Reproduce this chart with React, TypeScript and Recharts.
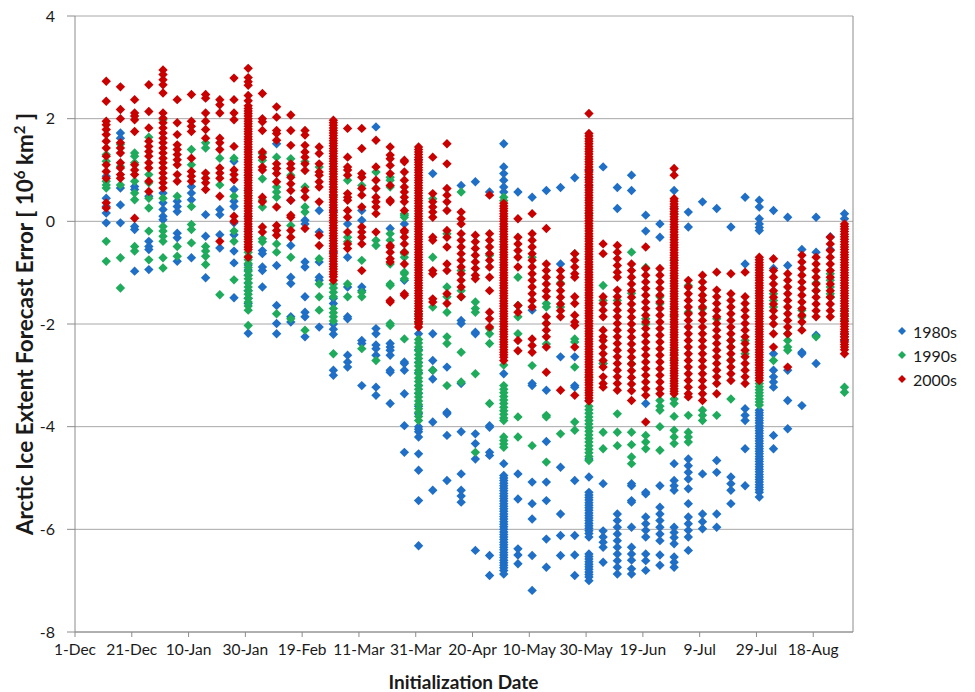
import React from 'react';
import { ScatterChart, Scatter, XAxis, YAxis, CartesianGrid, ReferenceLine, Legend } from 'recharts';

// Tick positions are days since 1 December
const xTickDays = [0, 20, 40, 60, 80, 100, 120, 140, 160, 180, 200, 220, 240, 260];
const xTickLabels = ['1-Dec', '21-Dec', '10-Jan', '30-Jan', '19-Feb', '11-Mar', '31-Mar', '20-Apr', '10-May', '30-May', '19-Jun', '9-Jul', '29-Jul', '18-Aug'];
const yTicks = [-8, -6, -4, -2, 0, 2, 4];
const yMinorTicks = [-7.6, -7.2, -6.8, -6.4, -5.6, -5.2, -4.8, -4.4, -3.6, -3.2, -2.8, -2.4, -1.6, -1.2, -0.8, -0.4, 0.4, 0.8, 1.2, 1.6, 2.4, 2.8, 3.2, 3.6];

const seriesNames = ['1980s', '1990s', '2000s'];
const seriesColors = ['#1f6fc6', '#1eab5c', '#c80000'];

// [initialization day since 1-Dec, forecast errors (10^6 km^2)]
const errors1980s: [number, number[]][] = [
  [11, [0.88, 0.45, 0.29, 0.16, -0.03]],
  [16, [1.72, 1.62, 0.65, 0.32, -0.03]],
  [21, [0.68, 0.62, -0.1, -0.16, -0.97]],
  [26, [0.49, -0.39, -0.49, -0.55, -0.94]],
  [31, [0.55, 0.36, 0.23, 0.1, 0.03]],
  [36, [0.39, 0.29, 0.19, -0.23, -0.32, -0.78]],
  [41, [0.68, 0.55, 0.42, -0.71]],
  [46, [0.13, -0.29, -1.1]],
  [51, [0.23, 0.13, -0.26, -0.52]],
  [56, [1.17, 0.62, 0.39, 0.29, -0.03, -0.26, -0.58, -0.81, -1.49]],
  [61, [0.6, 0.3, 0.1, -0.2, -0.85, -0.95, -1.05, -1.2, -1.35, -1.5, -1.6, -2.18]],
  [66, [1.25, -0.57, -0.63, -0.89, -0.96, -1.28]],
  [71, [1.51, -0.86, -1.64, -1.99, -2.19]],
  [76, [0.41, -0.47, -1.09, -1.21, -1.86, -1.96]],
  [81, [0.02, -0.05, -0.79, -0.89, -1.47, -1.77, -1.86, -2.25]],
  [86, [0.21, -0.21, -0.79, -1.09, -1.15, -2.06]],
  [91, [0.2, -0.6, -1.5, -1.6, -2.0, -2.1, -2.2, -2.9, -3.0]],
  [96, [-0.05, -0.7, -1.28, -1.86, -1.9, -2.61, -2.74, -2.84]],
  [101, [0.21, 0.02, -1.28, -1.35, -2.32, -2.38, -3.2]],
  [106, [1.84, -2.09, -2.19, -2.41, -2.48, -2.61, -3.23, -3.39]],
  [111, [-0.14, -2.38, -2.45, -2.51, -2.61, -2.9, -2.94, -3.55]],
  [116, [-0.05, -1.15, -2.74, -2.77, -2.9, -3.36, -3.98, -4.5]],
  [121, [1.2, -2.19, -2.5, -2.75, -2.95, -3.2, -3.35, -3.6, -3.75, -4.0, -4.05, -4.1, -4.2, -4.53, -4.85, -5.44, -6.32]],
  [126, [0.93, -2.19, -2.71, -2.9, -3.07, -3.91, -5.24]],
  [131, [-2.84, -3.72, -3.75, -4.17, -5.05]],
  [136, [0.7, -1.93, -1.99, -3.16, -4.1, -4.92, -5.24, -5.35, -5.47]],
  [141, [0.77, -2.16, -2.19, -4.14, -4.33, -4.63, -6.41]],
  [146, [0.57, -3.98, -4.01, -4.5, -4.56, -6.51, -6.9]],
  [151, [1.51, 1.06, 0.93, 0.8, 0.67, 0.57, -2.97, -4.72, -4.95, -5.0, -5.05, -5.1, -5.15, -5.2, -5.25, -5.3, -5.35, -5.4, -5.45, -5.5, -5.55, -5.6, -5.65, -5.7, -5.75, -5.8, -5.85, -5.9, -5.95, -6.0, -6.05, -6.1, -6.15, -6.2, -6.25, -6.3, -6.35, -6.4, -6.45, -6.5, -6.55, -6.6, -6.65, -6.7, -6.75, -6.8, -6.87]],
  [156, [0.57, -4.92, -5.41, -6.38, -6.5, -6.67]],
  [161, [0.47, -1.73, -3.16, -3.2, -5.08, -5.5, -5.8, -6.51, -7.19]],
  [166, [0.6, -3.29, -4.29, -5.08, -5.44, -6.19, -6.74]],
  [171, [0.66, -0.83, -2.64, -4.79, -5.7, -6.12, -6.51]],
  [176, [0.85, -2.64, -3.2, -3.23, -5.05, -6.12, -6.5, -6.9]],
  [181, [0.99, 0.86, 0.7, -3.49, -4.63, -4.98, -5.28, -5.33, -5.38, -5.43, -5.48, -5.53, -5.58, -5.63, -5.68, -5.73, -5.78, -5.83, -5.88, -5.93, -5.98, -6.03, -6.08, -6.15, -6.48, -6.53, -6.58, -6.63, -6.68, -6.73, -6.78, -6.83, -6.88, -6.93, -7.0]],
  [186, [1.06, -2.77, -5.11, -6.03, -6.15, -6.25, -6.35, -6.64]],
  [191, [0.66, 0.25, -5.7, -5.83, -5.96, -6.09, -6.22, -6.35, -6.48, -6.61, -6.74, -6.87]],
  [196, [0.9, 0.6, -5.11, -5.15, -5.44, -5.47, -5.96, -6.35, -6.48, -6.6, -6.77, -6.87]],
  [201, [0.12, -0.19, -3.55, -5.28, -5.31, -5.76, -5.89, -6.02, -6.15, -6.48, -6.61, -6.8]],
  [206, [-0.05, -0.31, -5.15, -5.57, -5.7, -5.83, -5.96, -6.09, -6.22, -6.5, -6.7]],
  [211, [0.6, 0.25, -4.72, -5.05, -5.15, -5.24, -5.96, -6.06, -6.16, -6.28, -6.54, -6.64, -6.74]],
  [216, [0.18, -0.11, -4.63, -4.76, -4.89, -5.02, -5.21, -5.5, -5.76, -5.89, -6.02, -6.15, -6.41]],
  [221, [0.38, -4.92, -5.7, -5.85, -5.99]],
  [226, [0.25, -4.66, -4.89, -5.7, -5.96]],
  [231, [-0.11, -4.98, -5.11, -5.24, -5.5]],
  [236, [0.47, -0.83, -3.65, -3.78, -3.88, -4.43, -5.15]],
  [241, [0.41, 0.28, 0.05, -0.05, -0.12, -0.18, -3.68, -3.73, -3.78, -3.83, -3.88, -3.93, -3.98, -4.03, -4.08, -4.13, -4.18, -4.23, -4.28, -4.33, -4.38, -4.43, -4.48, -4.53, -4.58, -4.63, -4.68, -4.73, -4.78, -4.83, -4.88, -4.93, -4.98, -5.03, -5.08, -5.13, -5.18, -5.23, -5.28, -5.37]],
  [246, [0.21, -0.92, -2.58, -2.9, -3.03, -3.13, -3.23, -4.17, -4.43]],
  [251, [0.08, -0.86, -2.9, -3.49, -4.04]],
  [256, [-0.55, -2.55, -2.58, -3.59]],
  [261, [0.08, -0.6, -2.22, -2.77]],
  [266, [-0.3, -0.55]],
  [271, [0.15, 0.05, -2.19, -2.25, -2.32]],
];

const errors1990s: [number, number[]][] = [
  [11, [1.3, 1.17, 0.78, 0.71, 0.65, -0.39, -0.78]],
  [16, [1.5, 1.07, 0.71, -0.71, -1.3]],
  [21, [1.33, 1.27, 1.14, 0.78, 0.55, 0.42, -0.49, -0.58]],
  [26, [1.64, 0.91, 0.75, 0.45, 0.26, -0.19, -0.75]],
  [31, [1.98, 0.45, -0.1, -0.19, -0.29, -0.39, -0.71, -0.91]],
  [36, [0.49, -0.49, -0.68]],
  [41, [1.4, 1.1, 0.29, -0.06, -0.16, -0.42]],
  [46, [1.53, 1.43, -0.49, -0.58, -0.68, -0.84]],
  [51, [1.23, 0.71, -1.43]],
  [56, [1.23, 0.49, -0.19, -0.39, -1.14]],
  [61, [0.9, 0.5, -0.3, -0.4, -0.5, -0.6, -0.68, -0.75, -0.82, -0.9, -0.97, -1.05, -1.12, -1.2, -1.28, -1.35, -1.42, -1.5, -1.57, -1.65, -1.73, -2.03]],
  [66, [1.32, 1.19, 0.83, 0.41, 0.28, -0.34, -0.4]],
  [71, [1.25, 0.67, 0.57, 0.47, -0.44, -0.6, -1.8]],
  [76, [1.22, 0.9, -0.08, -0.7, -1.9]],
  [81, [1.16, 0.67, 0.28, 0.18, -2.12]],
  [86, [1.06, -0.73, -1.22, -1.47, -1.73]],
  [91, [0.5, -1.22, -1.3, -1.38, -1.47, -1.7, -1.78, -1.86, -1.94, -2.58]],
  [96, [0.8, -0.31, -0.4, -1.22, -1.47]],
  [101, [0.7, -0.76, -1.38, -1.47, -2.48]],
  [106, [0.96, -0.37, -0.47, -2.71]],
  [111, [0.86, 0.8, 0.67, -0.24, -0.37, -0.83, -1.22, -1.25, -1.99, -2.03]],
  [116, [0.15, 0.12, 0.08, -0.6, -0.63, -0.7, -0.99, -1.02, -1.12, -2.29]],
  [121, [-1.75, -1.82, -1.9, -1.97, -2.3, -2.37, -2.45, -2.52, -2.6, -2.67, -2.75, -2.82, -2.9, -2.97, -3.05, -3.12, -3.2, -3.27, -3.35, -3.42, -3.5, -3.57, -3.65, -3.72, -3.8, -3.88]],
  [126, [0.44, -0.7, -1.67, -2.9]],
  [131, [-0.24, -1.28, -1.47, -1.77, -2.25, -2.38, -3.2]],
  [136, [0.57, -0.96, -1.35, -1.47, -2.55, -3.13]],
  [141, [-1.57, -1.7, -1.77, -2.97, -4.5]],
  [146, [-0.66, -2.09, -2.19, -2.38, -3.55]],
  [151, [0.47, 0.4, -2.8, -3.2, -3.27, -3.34, -3.41, -3.48, -3.55, -3.62, -3.69, -3.76, -3.83, -3.88, -4.2, -4.27, -4.34, -4.4]],
  [156, [-1.09, -1.64, -1.86, -2.19, -3.81, -4.2]],
  [161, [-0.7, -2.81, -4.37]],
  [166, [-1.6, -1.67, -1.99, -2.39, -3.78, -3.81, -4.69]],
  [171, [-1.2, -1.67, -4.14]],
  [176, [-0.63, -2.29, -2.35, -2.84, -3.91, -4.07]],
  [181, [0.15, -3.03, -3.6, -3.67, -3.74, -3.81, -3.88, -3.95, -4.02, -4.09, -4.16, -4.23, -4.3, -4.37, -4.44, -4.51, -4.58, -4.66]],
  [186, [-1.25, -1.54, -2.77, -4.11, -4.43]],
  [191, [-1.54, -3.75, -4.11, -4.37]],
  [196, [-0.6, -1.4, -2.77, -4.11, -4.35, -4.59, -4.72]],
  [201, [-0.9, -1.9, -2.0, -4.17, -4.3, -4.43]],
  [206, [-1.47, -1.6, -3.49, -3.6, -3.68, -4.0, -4.46]],
  [211, [0.15, -0.76, -1.7, -1.83, -2.5, -2.6, -2.7, -3.46, -3.55, -3.8, -4.07, -4.2, -4.33]],
  [216, [-1.25, -1.77, -3.78, -4.11, -4.2, -4.3]],
  [221, [-1.7, -3.68, -3.78, -3.88]],
  [226, [-1.9, -3.78]],
  [231, [-2.32, -2.45, -2.7, -3.46]],
  [236, [-2.32, -2.58]],
  [241, [-3.16, -3.22, -3.28, -3.34, -3.4, -3.46, -3.52, -3.58]],
  [246, [-1.41, -1.54, -1.67, -2.71]],
  [251, [-2.19, -2.32, -2.45, -2.51]],
  [256, [-1.73, -1.86]],
  [261, [-1.2, -1.35, -2.25]],
  [266, [-1.02, -1.15, -1.28, -1.41, -1.47]],
  [271, [-1.73, -1.83, -1.93, -3.23, -3.33]],
];

const errors2000s: [number, number[]][] = [
  [11, [2.73, 2.34, 1.95, 1.88, 1.79, 1.69, 1.56, 1.43, 1.27, 1.1, 0.97, 0.84, 0.36, 0.26]],
  [16, [2.62, 2.18, 2.0, 1.53, 1.43, 1.33, 1.14, 1.04, 0.91, 0.84]],
  [21, [2.37, 2.11, 2.05, 1.98, 1.75, 1.1, 1.0, 0.91, 0.06]],
  [26, [2.66, 2.14, 1.82, 1.56, 1.46, 1.36, 1.27, 1.14, 1.04, 0.78, 0.58]],
  [31, [2.95, 2.86, 2.76, 2.66, 2.5, 2.11, 2.01, 1.92, 1.82, 1.72, 1.62, 1.53, 1.43, 1.33, 1.23, 1.14, 1.04, 0.94, 0.84, 0.75, 0.65]],
  [36, [2.37, 1.92, 1.69, 1.49, 1.4, 1.3, 1.2, 1.1, 0.91, 0.78]],
  [41, [2.47, 1.95, 1.85, 1.75, 1.23, 0.97, 0.88, 0.78]],
  [46, [2.47, 2.4, 2.11, 1.95, 1.79, 1.62, 0.94, 0.84, 0.75, 0.62]],
  [51, [2.37, 2.27, 2.11, 1.62, 1.53, 1.4, 1.04, 0.94, 0.84, 0.49, -0.39]],
  [56, [2.79, 2.37, 2.11, 1.98, 1.46, 1.0, 0.91, 0.81, 0.1, 0.0]],
  [61, [2.98, 2.8, 2.72, 2.65, 2.45, 2.35, 2.25, 2.2, 2.15, 2.1, 2.05, 2.0, 1.95, 1.9, 1.85, 1.8, 1.75, 1.7, 1.65, 1.6, 1.55, 1.5, 1.45, 1.4, 1.35, 1.3, 1.25, 1.2, 1.15, 1.1, 1.05, 1.0, 0.95, 0.9, 0.85, 0.8, 0.75, 0.7, 0.65, 0.6, 0.55, 0.5, 0.45, 0.4, 0.35, 0.3, 0.25, 0.2, 0.15, 0.1, 0.05, 0.0, -0.05, -0.1, -0.15, -0.2, -0.25, -0.3, -0.35, -0.4, -0.45, -0.5, -0.55, -0.7]],
  [66, [2.49, 2.0, 1.94, 1.77, 1.35, 1.25, 1.06, 1.0, 0.47, 0.38, -0.11, -0.21]],
  [71, [2.23, 2.03, 1.77, 1.71, 1.58, 1.12, 1.03, 0.93, 0.77, 0.28, -0.08, -0.18, -0.27]],
  [76, [2.07, 1.77, 1.48, 1.12, 1.03, 0.86, 0.73, 0.6, 0.41, 0.12, 0.08, -0.18, -0.31]],
  [81, [1.77, 1.68, 1.48, 1.35, 1.25, 1.12, 0.99, 0.6, 0.47, -0.14]],
  [86, [1.45, 1.32, 1.12, 0.96, 0.9, 0.77, 0.67, 0.38, -0.27, -0.47]],
  [91, [1.97, 1.92, 1.87, 1.82, 1.77, 1.72, 1.67, 1.62, 1.57, 1.52, 1.47, 1.42, 1.37, 1.32, 1.27, 1.22, 1.17, 1.12, 1.07, 1.02, 0.97, 0.92, 0.87, 0.82, 0.77, 0.72, 0.67, 0.62, 0.57, 0.52, 0.47, 0.42, 0.37, 0.32, 0.27, 0.22, 0.17, 0.12, 0.07, 0.02, -0.03, -0.08, -0.13, -0.18, -0.23, -0.28, -0.33, -0.38, -0.43, -0.48, -0.53, -0.58, -0.63, -0.68, -0.73, -0.78, -0.83, -0.88, -0.93, -0.98, -1.03, -1.08, -1.15]],
  [96, [1.81, 1.25, 1.06, 1.0, 0.9, 0.54, 0.47, 0.41, 0.21, 0.08, -0.21, -0.44, -0.53]],
  [101, [1.81, 1.42, 0.93, 0.86, 0.64, 0.51, 0.28, -0.11, -0.21, -0.31, -0.44, -0.96]],
  [106, [1.58, 1.06, 0.8, 0.64, 0.47, 0.38, 0.28, 0.15, -0.21]],
  [111, [1.45, 1.29, 1.22, 1.09, 0.93, 0.7, 0.41, 0.38, -0.47, -0.5, -0.6, -0.73, -0.79, -1.54, -1.57]],
  [116, [1.19, 1.16, 0.96, 0.8, 0.67, 0.57, 0.47, 0.38, 0.21, -0.18, -0.21, -0.31, -0.44, -0.6, -0.83, -1.41, -1.44]],
  [121, [1.45, 1.4, 1.35, 1.3, 1.25, 1.2, 1.15, 1.1, 1.05, 1.0, 0.95, 0.9, 0.85, 0.8, 0.75, 0.7, 0.65, 0.6, 0.55, 0.5, 0.45, 0.4, 0.35, 0.3, 0.25, 0.2, 0.15, 0.1, 0.05, 0.0, -0.05, -0.1, -0.15, -0.2, -0.25, -0.3, -0.35, -0.4, -0.45, -0.5, -0.55, -0.6, -0.65, -0.7, -0.75, -0.8, -0.85, -0.9, -0.95, -1.0, -1.05, -1.1, -1.15, -1.2, -1.25, -1.3, -1.35, -1.4, -1.45, -1.5, -1.55, -1.6, -1.65, -1.7, -1.75, -1.8, -1.85, -1.9, -1.95, -2.0, -2.06]],
  [126, [1.25, 0.54, 0.38, 0.28, 0.18, 0.08, -0.31, -0.37, -0.96, -1.02, -1.51, -1.57]],
  [131, [1.51, 1.12, 0.64, 0.51, 0.38, 0.21, -0.18, -0.31, -0.5, -0.83, -0.96, -1.41, -1.6]],
  [136, [0.18, 0.05, -0.05, -0.24, -0.37, -0.5, -0.63, -0.76, -0.89, -1.02, -1.15, -1.28, -1.47]],
  [141, [-0.27, -0.4, -0.53, -0.66, -0.79, -0.92, -1.05, -1.12]],
  [146, [0.51, -0.24, -0.37, -0.5, -0.63, -0.76, -0.89, -1.09, -1.35, -1.77, -1.9, -2.06]],
  [151, [0.35, 0.3, 0.25, 0.2, 0.15, 0.1, 0.05, 0.0, -0.05, -0.1, -0.15, -0.2, -0.25, -0.3, -0.35, -0.4, -0.45, -0.5, -0.55, -0.6, -0.65, -0.7, -0.75, -0.8, -0.85, -0.9, -0.95, -1.0, -1.05, -1.1, -1.15, -1.2, -1.25, -1.3, -1.35, -1.4, -1.45, -1.5, -1.55, -1.6, -1.65, -1.7, -1.75, -1.8, -1.85, -1.9, -1.95, -2.0, -2.05, -2.1, -2.15, -2.2, -2.25, -2.3, -2.35, -2.4, -2.45, -2.5, -2.55, -2.6, -2.65, -2.71]],
  [156, [0.05, -0.31, -0.44, -0.57, -0.7, -0.89, -1.64, -1.77, -2.32, -2.52]],
  [161, [0.15, -0.24, -0.37, -0.5, -0.63, -0.76, -0.89, -1.02, -1.15, -1.28, -1.41, -1.54, -1.67, -2.29, -2.42, -2.55]],
  [166, [-0.14, -0.83, -0.96, -1.09, -1.22, -1.35, -1.47, -1.86, -1.99, -2.12, -2.25, -2.45, -2.94]],
  [171, [-0.96, -1.09, -1.22, -1.35, -1.48, -1.61, -1.74, -1.86, -3.29]],
  [176, [-0.63, -0.76, -0.89, -1.02, -1.09, -1.47, -1.6, -1.83, -1.96, -2.03, -2.45, -3.39]],
  [181, [2.1, 1.71, 1.66, 1.61, 1.56, 1.51, 1.46, 1.41, 1.36, 1.31, 1.26, 1.21, 1.16, 1.11, 1.06, 1.01, 0.96, 0.91, 0.86, 0.81, 0.76, 0.71, 0.66, 0.61, 0.56, 0.51, 0.46, 0.41, 0.36, 0.31, 0.26, 0.21, 0.16, 0.11, 0.06, 0.01, -0.04, -0.09, -0.14, -0.19, -0.24, -0.29, -0.34, -0.39, -0.44, -0.49, -0.54, -0.59, -0.64, -0.69, -0.74, -0.79, -0.84, -0.89, -0.94, -0.99, -1.04, -1.09, -1.14, -1.19, -1.24, -1.29, -1.34, -1.39, -1.44, -1.49, -1.54, -1.59, -1.64, -1.69, -1.74, -1.79, -1.84, -1.89, -1.94, -1.99, -2.04, -2.09, -2.14, -2.19, -2.24, -2.29, -2.34, -2.39, -2.44, -2.49, -2.54, -2.59, -2.64, -2.69, -2.74, -2.79, -2.84, -2.89, -2.94, -2.99, -3.04, -3.09, -3.14, -3.19, -3.24, -3.29, -3.34, -3.39, -3.44, -3.5]],
  [186, [-0.44, -0.63, -1.47, -1.6, -1.73, -1.86, -2.12, -2.25, -2.32, -2.45, -2.58, -2.71, -2.84, -3.03, -3.16, -3.23]],
  [191, [-0.47, -0.6, -0.73, -0.86, -0.99, -1.09, -1.34, -1.47, -1.6, -1.73, -1.86, -1.99, -2.12, -2.25, -2.38, -2.51, -2.64, -2.77, -2.9, -3.03, -3.16, -3.29]],
  [196, [-0.83, -0.96, -1.09, -1.22, -1.35, -1.48, -1.61, -1.74, -1.87, -2.0, -2.13, -2.26, -2.39, -2.52, -2.65, -2.78, -2.91, -3.04, -3.17, -3.3, -3.49]],
  [201, [-0.5, -0.92, -1.05, -1.18, -1.31, -1.44, -1.57, -1.7, -1.83, -1.96, -2.09, -2.22, -2.35, -2.48, -2.61, -2.74, -2.87, -3.0, -3.13, -3.26, -3.39, -3.91]],
  [206, [-0.92, -1.05, -1.18, -1.31, -1.44, -1.57, -1.7, -1.83, -1.96, -2.09, -2.22, -2.35, -2.48, -2.61, -2.74, -2.87, -3.0, -3.13, -3.26, -3.36]],
  [211, [1.03, 0.9, 0.44, 0.39, 0.34, 0.29, 0.24, 0.19, 0.14, 0.09, 0.04, -0.01, -0.06, -0.11, -0.16, -0.21, -0.26, -0.31, -0.36, -0.41, -0.46, -0.51, -0.56, -0.61, -0.66, -0.71, -0.76, -0.81, -0.86, -0.91, -0.96, -1.01, -1.06, -1.11, -1.16, -1.21, -1.26, -1.31, -1.36, -1.41, -1.46, -1.51, -1.56, -1.61, -1.66, -1.71, -1.76, -1.81, -1.86, -1.91, -1.96, -2.01, -2.06, -2.11, -2.16, -2.21, -2.26, -2.31, -2.36, -2.41, -2.46, -2.51, -2.56, -2.61, -2.66, -2.71, -2.76, -2.81, -2.86, -2.91, -2.96, -3.01, -3.06, -3.11, -3.16, -3.21, -3.26, -3.31, -3.36]],
  [216, [-1.15, -1.28, -1.41, -1.54, -1.67, -1.8, -1.93, -2.06, -2.19, -2.32, -2.45, -2.58, -2.71, -2.84, -2.97, -3.1, -3.23, -3.36, -3.42]],
  [221, [-1.05, -1.18, -1.31, -1.44, -1.54, -1.67, -1.8, -1.93, -2.06, -2.19, -2.32, -2.45, -2.58, -2.71, -2.84, -2.97, -3.1, -3.23, -3.36, -3.49]],
  [226, [-0.99, -1.34, -1.47, -1.6, -1.73, -1.86, -1.99, -2.12, -2.25, -2.38, -2.51, -2.64, -2.77, -2.9, -3.03, -3.16, -3.36]],
  [231, [-1.02, -1.41, -1.54, -1.67, -1.8, -1.93, -2.06, -2.19, -2.32, -2.45, -2.58, -2.71, -2.84, -2.97, -3.1]],
  [236, [-0.99, -1.47, -1.6, -1.73, -1.86, -1.99, -2.12, -2.25, -2.38, -2.51, -2.64, -2.77, -2.9, -3.03, -3.16]],
  [241, [-0.7, -0.75, -0.8, -0.85, -0.9, -0.95, -1.0, -1.05, -1.1, -1.15, -1.2, -1.25, -1.3, -1.35, -1.4, -1.45, -1.5, -1.55, -1.6, -1.65, -1.7, -1.75, -1.8, -1.85, -1.9, -1.95, -2.0, -2.05, -2.1, -2.15, -2.2, -2.25, -2.3, -2.35, -2.4, -2.45, -2.5, -2.55, -2.6, -2.65, -2.7, -2.75, -2.8, -2.85, -2.9, -2.95, -3.0, -3.05, -3.1]],
  [246, [-0.73, -0.96, -1.09, -1.22, -1.35, -1.48, -1.61, -1.74, -1.87, -2.0, -2.19, -2.45]],
  [251, [-1.02, -1.15, -1.28, -1.41, -1.54, -1.67, -1.8, -1.93, -2.06, -2.19, -2.84]],
  [256, [-0.66, -0.79, -0.92, -1.05, -1.18, -1.31, -1.44, -1.57, -1.7, -1.83, -1.96, -2.12]],
  [261, [-0.7, -0.83, -0.96, -1.09, -1.22, -1.35, -1.48, -1.61, -1.74, -1.86]],
  [266, [-0.31, -0.44, -0.57, -0.7, -0.83, -0.96, -1.09, -1.22, -1.35, -1.48, -1.61, -1.74, -1.86]],
  [271, [-0.05, -0.1, -0.15, -0.2, -0.25, -0.3, -0.35, -0.4, -0.45, -0.5, -0.55, -0.6, -0.65, -0.7, -0.75, -0.8, -0.85, -0.9, -0.95, -1.0, -1.05, -1.1, -1.15, -1.2, -1.25, -1.3, -1.35, -1.4, -1.45, -1.5, -1.55, -1.6, -1.65, -1.7, -1.75, -1.8, -1.85, -1.9, -1.95, -2.0, -2.05, -2.1, -2.15, -2.2, -2.25, -2.3, -2.35, -2.4, -2.45, -2.5, -2.58]],
];

const toPoints = (cols: [number, number[]][]) =>
  cols.flatMap(([day, vals]) => vals.map((v) => ({ day, err: v })));

const allSeries = [errors1980s, errors1990s, errors2000s].map(toPoints);

const FONT = 'Lato, "Open Sans", sans-serif';
const AXIS_GRAY = '#8c8c8c';

const makeDiamond = (color: string) => (props: any) => {
  const { cx, cy } = props;
  if (cx == null || cy == null) return <g />;
  const r = 4.7;
  return <path d={`M${cx},${cy - r}L${cx + r},${cy}L${cx},${cy + r}L${cx - r},${cy}Z`} fill={color} />;
};

const renderLegend = (props: any) => {
  const payload = props.payload || [];
  return (
    <div style={{ fontFamily: FONT, fontSize: 16, color: '#1a1a1a' }}>
      {payload.map((e: any) => (
        <div key={e.value} style={{ display: 'flex', alignItems: 'center', height: 24 }}>
          <svg width={14} height={14} style={{ display: 'block' }}>
            <path d="M7,3L11,7L7,11L3,7Z" fill={e.color} />
          </svg>
          <span style={{ marginLeft: 4 }}>{e.value}</span>
        </div>
      ))}
    </div>
  );
};

const YTitle = () => (
  <text
    transform="translate(33,324) rotate(-90)"
    textAnchor="middle"
    fontFamily={FONT}
    fontWeight="bold"
    fontSize={22.5}
    fill="#1a1a1a"
  >
    Arctic Ice Extent Forecast Error [ 10<tspan dy={-8} fontSize={15}>6</tspan>
    <tspan dy={8}> km</tspan>
    <tspan dy={-8} fontSize={15}>2</tspan>
    <tspan dy={8}> ]</tspan>
  </text>
);

const XTitle = () => (
  <text x={463.5} y={689} textAnchor="middle" fontFamily={FONT} fontWeight="bold" fontSize={19} fill="#1a1a1a">
    Initialization Date
  </text>
);

export default function App() {
  return (
    <div style={{ position: 'absolute', left: 0, top: 0, width: 975, height: 692, background: '#fff' }}>
      <ScatterChart width={975} height={692} margin={{ top: 16, right: 122, bottom: 0, left: 0 }} style={{ fontFamily: FONT }}>
        <CartesianGrid vertical={false} stroke="#a8a8a8" />
        <XAxis
          type="number"
          dataKey="day"
          domain={[0, 274]}
          ticks={xTickDays}
          interval={0}
          allowDataOverflow
          height={60}
          tickSize={5}
          tickMargin={7}
          stroke={AXIS_GRAY}
          tick={{ fill: '#1a1a1a', fontSize: 15.5, fontFamily: FONT }}
          tickFormatter={(d: number) => xTickLabels[xTickDays.indexOf(d)] ?? ''}
          label={() => <XTitle />}
        />
        <YAxis
          type="number"
          dataKey="err"
          domain={[-8, 4]}
          ticks={yTicks}
          interval={0}
          allowDataOverflow
          width={75}
          tickSize={8}
          tickMargin={12}
          stroke={AXIS_GRAY}
          tick={{ fill: '#1a1a1a', fontSize: 16, fontFamily: FONT }}
          label={() => <YTitle />}
        />
        <YAxis
          yAxisId="minor"
          type="number"
          domain={[-8, 4]}
          ticks={yMinorTicks}
          interval={0}
          mirror
          width={0}
          tick={false}
          tickSize={4}
          axisLine={false}
          tickLine={{ stroke: AXIS_GRAY }}
        />
        <ReferenceLine x={274} stroke={AXIS_GRAY} />
        {allSeries.map((pts, i) => (
          <Scatter
            key={seriesNames[i]}
            name={seriesNames[i]}
            data={pts}
            fill={seriesColors[i]}
            shape={makeDiamond(seriesColors[i])}
            isAnimationActive={false}
          />
        ))}
        <Legend
          layout="vertical"
          align="center"
          verticalAlign="middle"
          content={renderLegend}
          wrapperStyle={{ left: 895, top: 319, width: 80, height: 75 }}
        />
      </ScatterChart>
    </div>
  );
}
